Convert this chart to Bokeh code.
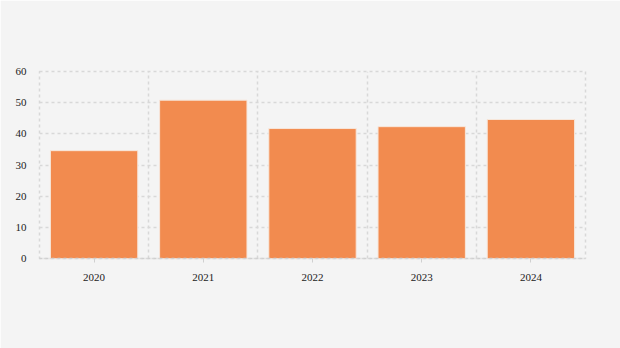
from bokeh.plotting import figure
from bokeh.models import ColumnDataSource, FixedTicker, Range1d
from bokeh.embed import file_html
from bokeh.resources import INLINE

years = ["2020", "2021", "2022", "2023", "2024"]
values = [34.6, 50.8, 41.7, 42.3, 44.6]
y_ticks = [0, 10, 20, 30, 40, 50, 60]

xs = [i + 0.5 for i in range(len(years))]
src = ColumnDataSource(dict(x=xs, top=values))

p = figure(width=620, height=348, frame_width=546, frame_height=187,
           output_backend="svg", toolbar_location=None,
           x_range=Range1d(0, len(years)), y_range=Range1d(0, 60),
           min_border_left=39, min_border_top=71, min_border_right=35, min_border_bottom=90)
p.background_fill_color = "#f4f4f4"
p.border_fill_color = "#f4f4f4"
p.outline_line_color = "#d8d8d8"
p.outline_line_dash = "3 3"
p.outline_line_width = 1.5

p.vbar(x="x", top="top", width=0.8, bottom=0, source=src,
       fill_color="#f28b4f", line_color="#f7e6da", line_width=1)

p.xaxis.ticker = FixedTicker(ticks=xs)
p.xaxis.major_label_overrides = {x: y for x, y in zip(xs, years)}
p.xgrid.ticker = FixedTicker(ticks=list(range(len(years) + 1)))
p.yaxis.ticker = FixedTicker(ticks=y_ticks)

for g in (p.xgrid, p.ygrid):
    g.grid_line_color = "#d8d8d8"
    g.grid_line_dash = "3 3"
    g.grid_line_width = 1.5

p.xaxis.axis_line_color = "#d0d0d0"
p.xaxis.axis_line_dash = "3 3"
p.xaxis.axis_line_width = 1.5
p.xaxis.major_tick_line_color = "#d0d0d0"
p.xaxis.major_tick_in = 0
p.xaxis.major_tick_out = 4
p.xaxis.minor_tick_line_color = None
p.xaxis.major_label_standoff = 11

p.yaxis.axis_line_color = None
p.yaxis.major_tick_line_color = None
p.yaxis.minor_tick_line_color = None
p.yaxis.major_tick_in = 0
p.yaxis.major_tick_out = 0
p.yaxis.minor_tick_out = 0
p.yaxis.major_label_standoff = 13

for ax in (p.xaxis, p.yaxis):
    ax.major_label_text_font = "Liberation Serif"
    ax.major_label_text_font_size = "11px"
    ax.major_label_text_color = "#222222"

open("out.html", "w").write(file_html(p, INLINE))
